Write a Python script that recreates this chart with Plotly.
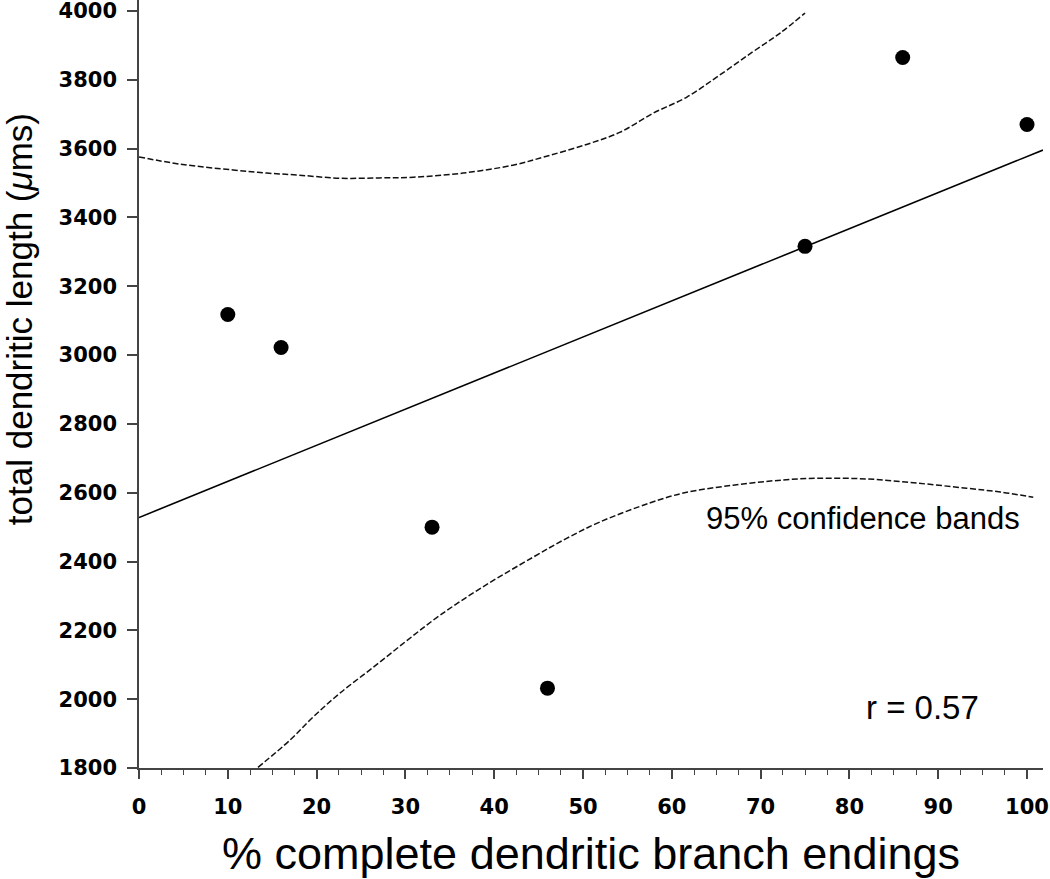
import plotly.graph_objects as go

# Data points
pct_complete = [10, 16, 33, 46, 75, 86, 100]
dendritic_length = [3118, 3022, 2500, 2032, 3316, 3865, 3670]

# Regression line endpoints
fit_x = [0, 101.8]
fit_y = [2528, 3596]

# Upper 95% confidence band
upper_x = [0, 4.6, 10.6, 14.4, 18.0, 22.6, 27.1, 30.9, 36.5, 42.1, 45.9, 50.5,
           54.2, 57.9, 61.7, 65.4, 69.1, 72.2, 75.0]
upper_y = [3576, 3555, 3538, 3529, 3523, 3514, 3515, 3517, 3529, 3552, 3578, 3613,
           3648, 3703, 3750, 3814, 3881, 3936, 3994]

# Lower 95% confidence band
lower_x = [13.4, 17.0, 19.6, 22.6, 26.4, 30.2, 33.9, 38.7, 44.4, 48.2, 51.9,
           57.5, 61.3, 66.9, 72.5, 76.4, 82.0, 87.6, 93.2, 97.0, 100.7]
lower_y = [1802, 1881, 1948, 2017, 2093, 2171, 2244, 2326, 2413, 2468, 2515,
           2570, 2599, 2622, 2637, 2642, 2640, 2628, 2613, 2602, 2587]

x_ticks = [0, 10, 20, 30, 40, 50, 60, 70, 80, 90, 100]
y_ticks = [1800, 2000, 2200, 2400, 2600, 2800, 3000, 3200, 3400, 3600, 3800, 4000]

x_title = "% complete dendritic branch endings"
y_title = "total dendritic length (<i>μ</i>ms)"
band_label = "95% confidence bands"
r_label = "r = 0.57"

fig = go.Figure()

band_style = dict(color="#111111", width=1.5, dash="6px,2.5px")
fig.add_trace(go.Scatter(x=upper_x, y=upper_y, mode="lines", line=band_style,
                         line_shape="spline", showlegend=False, hoverinfo="skip"))
fig.add_trace(go.Scatter(x=lower_x, y=lower_y, mode="lines", line=band_style,
                         line_shape="spline", showlegend=False, hoverinfo="skip"))
fig.add_trace(go.Scatter(x=fit_x, y=fit_y, mode="lines",
                         line=dict(color="black", width=1.6),
                         showlegend=False, hoverinfo="skip"))
fig.add_trace(go.Scatter(x=pct_complete, y=dendritic_length, mode="markers",
                         marker=dict(color="black", size=15, symbol="circle"),
                         showlegend=False))

tick_font = dict(family="DejaVu Sans", size=21, color="black", weight="bold")

fig.update_xaxes(
    range=[0, 101.8], tickvals=x_ticks, ticktext=[str(v) for v in x_ticks],
    ticks="outside", ticklen=9, tickwidth=1.5, tickcolor="#444444",
    minor=dict(dtick=2.5, ticks="outside", ticklen=5, tickwidth=1.2, tickcolor="#444444"),
    showline=True, linecolor="#444444", linewidth=1.5,
    showgrid=False, zeroline=False,
    tickfont=tick_font, ticklabelstandoff=10, ticklabeloverflow="allow",
    title=dict(text=x_title, font=dict(family="Liberation Sans", size=45, color="black"),
               standoff=24),
)
fig.update_yaxes(
    range=[1800, 4032], tickvals=y_ticks, ticktext=[str(v) for v in y_ticks],
    ticks="outside", ticklen=10, tickwidth=1.5, tickcolor="#444444",
    showline=True, linecolor="#444444", linewidth=1.5,
    showgrid=False, zeroline=False,
    tickfont=tick_font, ticklabelstandoff=6, ticklabeloverflow="allow",
)

# y-axis title placed as a rotated annotation (it sits above the axis centre)
fig.add_annotation(x=-0.132, xref="paper", y=0.584, yref="paper", text=y_title,
                   textangle=-90, showarrow=False, xanchor="center", yanchor="middle",
                   font=dict(family="Liberation Sans", size=35, color="black"))
fig.add_annotation(x=0.977, xref="paper", y=2526, yref="y", text=band_label,
                   showarrow=False, xanchor="right", yanchor="middle",
                   font=dict(family="Liberation Sans", size=31, color="black"))
fig.add_annotation(x=88.2, y=1977, text=r_label, showarrow=False,
                   xanchor="center", yanchor="middle",
                   font=dict(family="Liberation Sans", size=33, color="black"))

fig.update_layout(
    width=1050, height=879,
    margin=dict(l=139, r=7, t=0, b=111, autoexpand=False),
    plot_bgcolor="white", paper_bgcolor="white",
    font=dict(family="Liberation Sans", color="black"),
)

fig.write_html("out.html", config={"displayModeBar": False},
               post_script="document.body.style.margin='0';")
